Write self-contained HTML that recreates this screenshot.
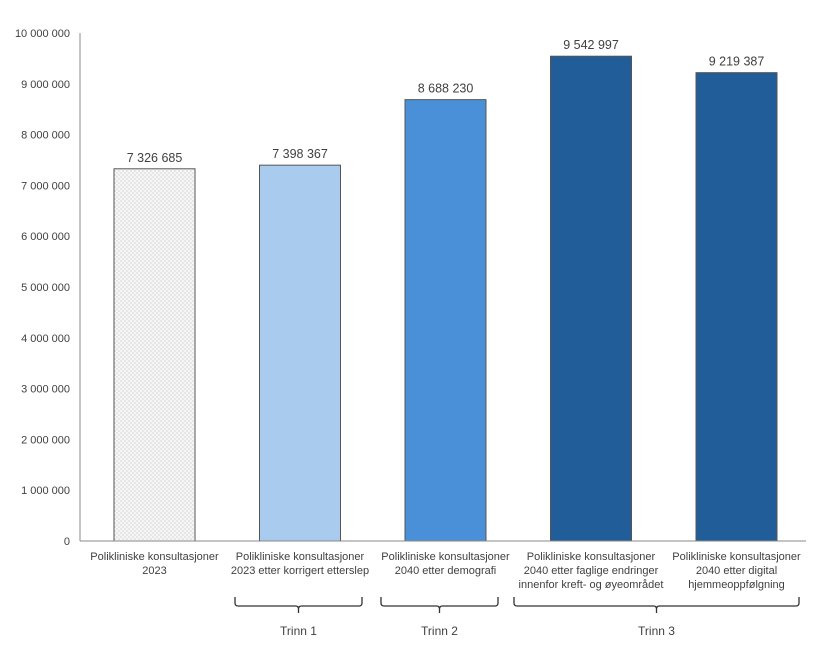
<!DOCTYPE html>
<html><head><meta charset="utf-8"><style>
body{margin:0;background:#fff;}
svg text{font-family:"Liberation Sans",sans-serif;fill:#404040;}
</style></head><body>
<svg id="chart" width="832" height="643" viewBox="0 0 832 643" xmlns="http://www.w3.org/2000/svg">
<defs>
<pattern id="dots" width="4" height="4" patternUnits="userSpaceOnUse">
<rect width="4" height="4" fill="#f6f6f6"/>
<circle cx="1" cy="1" r="0.55" fill="#a8a8a8"/><circle cx="3" cy="3" r="0.55" fill="#a8a8a8"/>
</pattern>
</defs>
<g id="plot"></g>
</svg>
<script>
const categories = [
 ["Polikliniske konsultasjoner","2023"],
 ["Polikliniske konsultasjoner","2023 etter korrigert etterslep"],
 ["Polikliniske konsultasjoner","2040 etter demografi"],
 ["Polikliniske konsultasjoner","2040 etter faglige endringer","innenfor kreft- og øyeområdet"],
 ["Polikliniske konsultasjoner","2040 etter digital","hjemmeoppfølgning"]
];
const values = [7326685, 7398367, 8688230, 9542997, 9219387];
const valueLabels = ["7 326 685","7 398 367","8 688 230","9 542 997","9 219 387"];
const yTicks = [0,1000000,2000000,3000000,4000000,5000000,6000000,7000000,8000000,9000000,10000000];
const yTickLabels = ["0","1 000 000","2 000 000","3 000 000","4 000 000","5 000 000","6 000 000","7 000 000","8 000 000","9 000 000","10 000 000"];
const groupLabels = ["Trinn 1","Trinn 2","Trinn 3"];
const groupStart = [1,2,3];
const groupEnd = [1,2,4];
const fills = ["url(#dots)","#a9cbee","#4a90d9","#215e99","#215e99"];
const braceLeftPad = [65,64.5,77];
const braceRightPad = [62,52.5,62.5];

const NS="http://www.w3.org/2000/svg";
const g=document.getElementById('plot');
const x0=80, x1=806, yB=541, yT=33, yMax=10000000;
const step=145.5, bw=81;
const y=v=>yB-(v/yMax)*(yB-yT);
const cx=i=>x0+34+bw/2+i*step;
function mk(t,a){const e=document.createElementNS(NS,t);for(const k in a)e.setAttribute(k,a[k]);g.appendChild(e);return e;}

let ax=mk('line',{x1:x0,y1:yT,x2:x0,y2:yB,stroke:'#888','stroke-width':1});


yTicks.forEach((t,i)=>{
 const e=mk('text',{x:x0-10,y:y(t)+4,'text-anchor':'end','font-size':11});
 e.textContent=yTickLabels[i];
 
 
});
values.forEach((v,i)=>{
 const r=mk('rect',{x:cx(i)-bw/2,y:y(v),width:bw,height:yB-y(v),fill:fills[i],stroke:'#555','stroke-width':1});
 
 
 const l=mk('text',{x:cx(i),y:y(v)-7,'text-anchor':'middle','font-size':12.5});
 l.textContent=valueLabels[i];
 
 
 categories[i].forEach((s,j)=>{
  const c=mk('text',{x:cx(i),y:560+j*14,'text-anchor':'middle','font-size':11});
  c.textContent=s;
  
  
 });
});
let xa=mk('line',{x1:x0,y1:yB,x2:x1,y2:yB,stroke:'#888','stroke-width':1});


groupLabels.forEach((s,i)=>{
 const a=cx(groupStart[i])-braceLeftPad[i], b=cx(groupEnd[i])+braceRightPad[i], m=(a+b)/2;
 const p=mk('path',{d:`M${a} 597 v6 q0 3 3 3 H${m-3} q3 0 3 3 v4 M${m} 609 q0-3 3-3 H${b-3} q3 0 3-3 v-6`,fill:'none',stroke:'#333','stroke-width':1.3});
 
 
 const t=mk('text',{x:m,y:635,'text-anchor':'middle','font-size':12});
 t.textContent=s;
 
 
});
</script>
</body></html>
